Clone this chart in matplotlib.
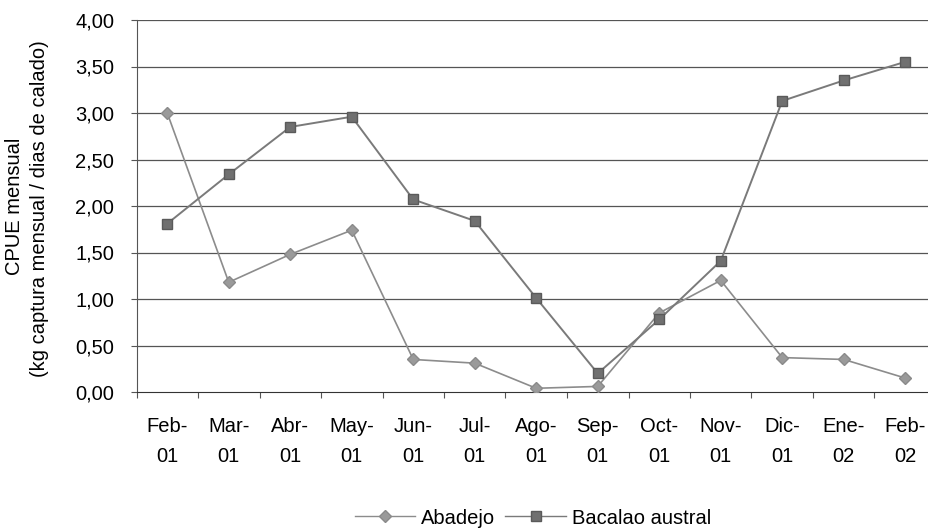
import numpy as np
import matplotlib
matplotlib.use('Agg')
import matplotlib.pyplot as plt
from matplotlib.lines import Line2D

plt.rcParams['font.family'] = ['Liberation Sans', 'DejaVu Sans']

#%% datos CPUE mensual
meses = ['Feb-\n01', 'Mar-\n01', 'Abr-\n01', 'May-\n01', 'Jun-\n01', 'Jul-\n01',
         'Ago-\n01', 'Sep-\n01', 'Oct-\n01', 'Nov-\n01', 'Dic-\n01', 'Ene-\n02', 'Feb-\n02']
abadejo = [3.00, 1.18, 1.48, 1.74, 0.35, 0.31, 0.04, 0.06, 0.85, 1.20, 0.37, 0.35, 0.15]
bacalao = [1.81, 2.34, 2.85, 2.96, 2.07, 1.84, 1.01, 0.20, 0.78, 1.41, 3.13, 3.35, 3.55]
yticks = [0, 0.5, 1.0, 1.5, 2.0, 2.5, 3.0, 3.5, 4.0]

fs = 14.5

#%% figura
fig = plt.figure(figsize=(9.29, 5.31), dpi=100)
ax = fig.add_axes([136.5/929, 1-392/531, (936-136.5)/929, (392-20)/531])

x = np.arange(len(meses))
ax.set_xlim(-0.5, len(meses)-0.5)
ax.set_ylim(0, 4)

for v in yticks[1:]:
    ax.axhline(v, color='#555555', lw=0.9, zorder=1)

ax.plot(x, abadejo, color='#8c8c8c', lw=1.2, marker='D', ms=6,
        mfc='#9a9a9a', mec='#8a8a8a', zorder=3)
ax.plot(x, bacalao, color='#7a7a7a', lw=1.4, marker='s', ms=7,
        mfc='#707070', mec='#5a5a5a', zorder=3)

ax.set_yticks(yticks)
ax.yaxis.set_major_formatter(matplotlib.ticker.FuncFormatter(lambda v, p: ('%.2f' % v).replace('.', ',')))
for t in ax.get_yticklabels():
    t.set_fontsize(fs)

# ticks en los limites entre meses, etiquetas centradas
ax.set_xticks(np.arange(len(meses)+1)-0.5)
ax.set_xticklabels([])
ax.set_xticks(x, minor=True)
ax.set_xticklabels(meses, minor=True, fontsize=fs, linespacing=1.75)
ax.tick_params(axis='x', which='minor', length=0, pad=18)
ax.tick_params(axis='x', which='major', length=4, color='#555555')
ax.tick_params(axis='y', length=4, color='#555555', pad=12)

for s in ['top', 'right']:
    ax.spines[s].set_visible(False)
ax.spines['left'].set_color('#555555')
ax.spines['bottom'].set_color('#333333')

fig.text(15/929, 1-206/531, 'CPUE mensual', rotation=90, ha='center', va='center', fontsize=fs)
fig.text(40/929, 1-209/531, '(kg captura mensual / dias de calado)', rotation=90,
         ha='center', va='center', fontsize=fs)

handles = [Line2D([], [], color='#8c8c8c', lw=1.0, marker='D', ms=6, mfc='#9a9a9a', mec='#8a8a8a'),
           Line2D([], [], color='#7a7a7a', lw=1.0, marker='s', ms=7, mfc='#707070', mec='#5a5a5a')]
fig.legend(handles, ['Abadejo', 'Bacalao austral'], loc='center', bbox_to_anchor=(533/929, 1-518/531),
           ncol=2, frameon=False, fontsize=fs, handlelength=3.0, columnspacing=0.5, handletextpad=0.3)

fig.savefig('out.png', dpi=100)
